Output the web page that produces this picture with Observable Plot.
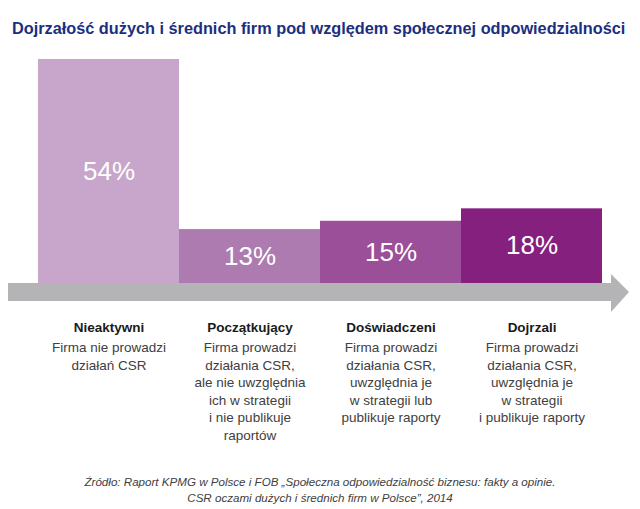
<!DOCTYPE html>
<html><head><meta charset="utf-8">
<script src="https://cdn.jsdelivr.net/npm/d3@7"></script>
<script src="https://cdn.jsdelivr.net/npm/@observablehq/plot@0.6"></script>
<style>
body{margin:0;background:#fff;width:640px;overflow:hidden;}
#title{font-family:"Liberation Sans",Arial,sans-serif;font-weight:bold;font-size:16.3px;line-height:20px;color:#1c2f7f;padding:18px 0 12px 12px;height:20px;white-space:nowrap;}
#caption{font-family:"Liberation Sans",Arial,sans-serif;font-style:italic;font-size:11.6px;line-height:16px;color:#404040;text-align:center;padding-top:14px;height:35px;white-space:nowrap;}
svg{display:block;}
</style></head>
<body>
<div id="title">Dojrzałość dużych i średnich firm pod względem społecznej odpowiedzialności</div>
<div id="chart"></div>
<div id="caption">Źródło: Raport KPMG w Polsce i FOB „Społeczna odpowiedzialność biznesu: fakty a opinie.<br>CSR oczami dużych i średnich firm w Polsce”, 2014</div>
<script>
const categories = ["Nieaktywni", "Początkujący", "Doświadczeni", "Dojrzali"];
const values = [54, 13, 15, 18];
const descriptions = [
  "Firma nie prowadzi\ndziałań CSR",
  "Firma prowadzi\ndziałania CSR,\nale nie uwzględnia\nich w strategii\ni nie publikuje\nraportów",
  "Firma prowadzi\ndziałania CSR,\nuwzględnia je\nw strategii lub\npublikuje raporty",
  "Firma prowadzi\ndziałania CSR,\nuwzględnia je\nw strategii\ni publikuje raporty"
];
const colors = ["#c8a6cb", "#ae7bb0", "#9b4f98", "#85207f"];

const data = categories.map((c, i) => ({category: c, value: values[i], desc: descriptions[i]}));

const font = "'Liberation Sans', Arial, sans-serif";

function arrow(index, scales, values, dimensions) {
  const y0 = scales.y(0);
  const [xa, xb] = scales.x.range();
  const left = 8, bandH = 18, headStart = xb + 9, tip = xb + 27, headUp = 9, headDown = 11;
  const p = `M${left},${y0} L${headStart},${y0} L${headStart},${y0 - headUp} L${tip},${y0 + bandH / 2} L${headStart},${y0 + bandH + headDown} L${headStart},${y0 + bandH} L${left},${y0 + bandH} Z`;
  const g = d3.create("svg:path").attr("d", p).attr("fill", "#b4b4b6");
  return g.node();
}

const chart = Plot.plot({
  width: 640,
  height: 410,
  margin: 0,
  x: {domain: categories, range: [38, 602], padding: 0, axis: null},
  y: {domain: [0, 54], range: [233, 9], axis: null},
  color: {domain: categories, range: colors},
  style: {fontFamily: font},
  marks: [
    Plot.barY(data, {x: "category", y: "value", fill: "category", inset: 0}),
    arrow,
    Plot.text(data, {x: "category", y: d => d.value / 2, text: d => `${d.value}%`, fill: "white", fontSize: 26, fontFamily: font}),
    Plot.text(data, {x: "category", y: 0, dy: 44, text: "category", fontWeight: "bold", fontSize: 13.5, fill: "#1a1a1a", fontFamily: font}),
    Plot.text(data, {x: "category", y: 0, dy: 56, text: "desc", lineAnchor: "top", lineHeight: 1.3, fontSize: 13.5, fill: "#404040", fontFamily: font})
  ]
});
document.getElementById("chart").appendChild(chart);
</script>
</body></html>
